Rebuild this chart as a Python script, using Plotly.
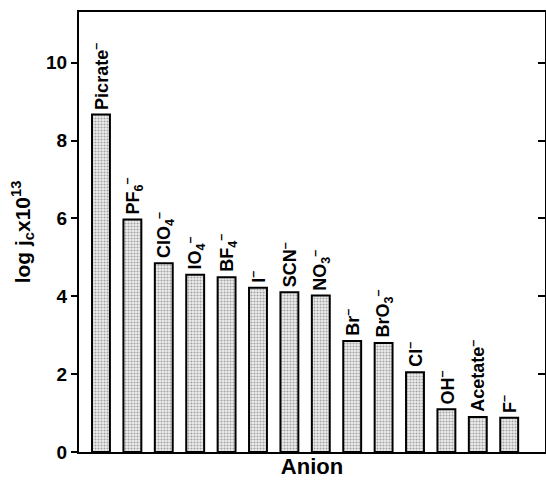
import plotly.graph_objects as go

anions = ["Picrate", "PF6", "ClO4", "IO4", "BF4", "I", "SCN", "NO3",
          "Br", "BrO3", "Cl", "OH", "Acetate", "F"]
M = "<sup>–</sup>"
labels = ["Picrate" + M, "PF<sub>6</sub>" + M, "ClO<sub>4</sub>" + M,
          "IO<sub>4</sub>" + M, "BF<sub>4</sub>" + M, "I" + M,
          "SCN" + M, "NO<sub>3</sub>" + M, "Br" + M,
          "BrO<sub>3</sub>" + M, "Cl" + M, "OH" + M,
          "Acetate" + M, "F" + M]
log_jc = [8.67, 5.97, 4.85, 4.55, 4.49, 4.22, 4.1, 4.02, 2.85, 2.8, 2.05, 1.1, 0.9, 0.88]
yticks = [0, 2, 4, 6, 8, 10]

FONT = "Liberation Sans"
x_idx = list(range(len(anions)))

fig = go.Figure()
fig.add_trace(go.Bar(
    x=x_idx, y=log_jc, width=0.57,
    marker=dict(color="#e0e0e0",
                line=dict(color="black", width=2),
                pattern=dict(shape=".", size=3, solidity=0.4,
                             fgcolor="#555555", bgcolor="#eeeeee")),
    showlegend=False, hoverinfo="skip",
))
# invisible trace on the right axis for inside ticks
fig.add_trace(go.Scatter(x=[x_idx[0]], y=[0], yaxis="y2", mode="markers",
                         marker=dict(opacity=0), showlegend=False, hoverinfo="skip"))

for i, (lab, v) in enumerate(zip(labels, log_jc)):
    fig.add_annotation(x=i, y=v, text="<b>" + lab + "</b>", textangle=-90,
                       showarrow=False, xanchor="center", yanchor="bottom",
                       yshift=3, font=dict(family=FONT, size=18, color="black"))

yr = [0, 11.3]
fig.update_layout(
    width=546, height=486,
    margin=dict(l=79, r=1, t=12, b=34),
    paper_bgcolor="white", plot_bgcolor="white",
    font=dict(family=FONT, color="black"),
    xaxis=dict(range=[-0.7, 14.14], showticklabels=False, ticks="",
               showgrid=False, zeroline=False,
               showline=True, linecolor="black", linewidth=2, mirror=True,
               title=dict(text="<b>Anion</b>", font=dict(family=FONT, size=22), standoff=6)),
    yaxis=dict(range=yr, tickvals=yticks, ticktext=["<b>%d</b>" % t for t in yticks],
               tickfont=dict(family=FONT, size=19), ticks="outside", ticklen=6,
               tickwidth=2, tickcolor="black",
               showgrid=False, zeroline=False,
               showline=True, linecolor="black", linewidth=2,
               title=dict(text="<b>log j<sub>c</sub>x10<sup>13</sup></b>",
                          font=dict(family=FONT, size=21), standoff=10)),
    yaxis2=dict(range=yr, overlaying="y", side="right", tickvals=yticks,
                showticklabels=False, ticks="inside", ticklen=7, tickwidth=2,
                tickcolor="black", showgrid=False, zeroline=False,
                showline=True, linecolor="black", linewidth=2),
)

fig.write_html("out.html")
